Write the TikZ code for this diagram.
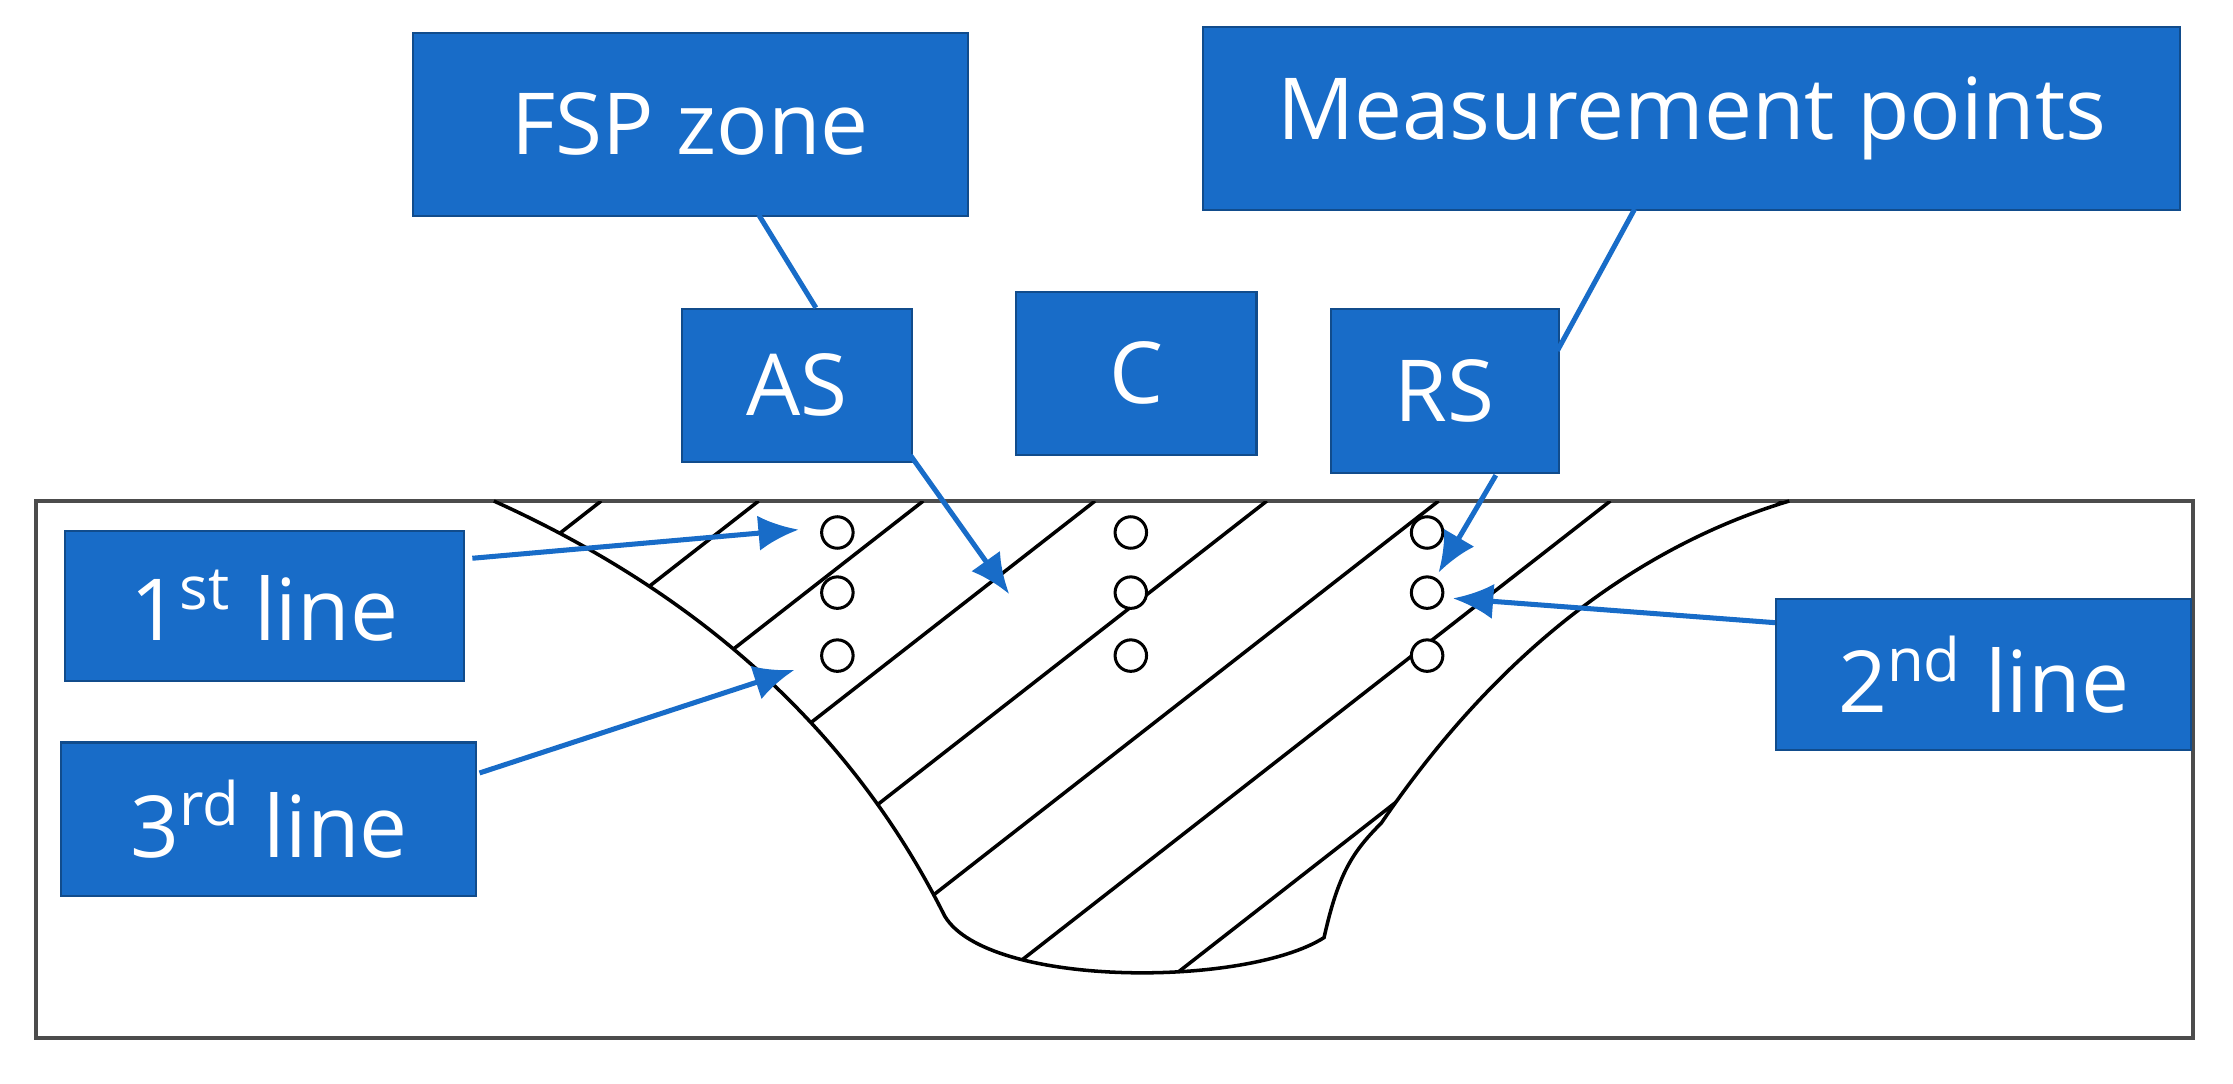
\documentclass[tikz,border=0pt]{standalone}
\usepackage{fontspec}
\setmainfont{Open Sans}
\usetikzlibrary{arrows.meta}
\definecolor{bl}{RGB}{24,108,200}
\begin{document}
\begin{tikzpicture}[x=0.01cm,y=-0.01cm,
 box/.style={draw=bl!70!black,fill=bl,text=white,font=\fontsize{17}{19}\selectfont,inner sep=0pt,anchor=north west},
 con/.style={bl,line width=1pt},
 arr/.style={con,-{Latex[length=8pt,width=7pt]}}]
\useasboundingbox (0,0) rectangle (1560,757);
\draw[line width=0.7pt,black!70] (25,350) rectangle (1532,725);
\def\zone{(345,350) .. controls (500,420) and (600,520) .. (660,640)
 .. controls (690,690) and (870,690) .. (925,655)
 .. controls (935,610) and (945,595) .. (965,575)
 .. controls (1050,450) and (1150,380) .. (1250,350) -- cycle}
\begin{scope}
\clip \zone;
\foreach \x in {420,530,645,765,885,1005,1125,1245,1365,1485}
 \draw[line width=0.7pt] (\x,350) -- ++(-700,546);
\end{scope}
\draw[line width=0.7pt] (345,350) .. controls (500,420) and (600,520) .. (660,640)
 .. controls (690,690) and (870,690) .. (925,655)
 .. controls (935,610) and (945,595) .. (965,575)
 .. controls (1050,450) and (1150,380) .. (1250,350);
\foreach \x in {585,790,997} \foreach \y in {372,414,458}
 \draw[fill=white,line width=0.6pt] (\x,\y) circle[radius=11];
\node[box,minimum width=3.87cm,minimum height=1.28cm] (fsp) at (288,22) {FSP zone};
\node[box,minimum width=6.82cm,minimum height=1.28cm] (mp) at (840,18) {Measurement points};
\node[box,minimum width=1.60cm,minimum height=1.07cm] (as) at (476,215) {AS};
\node[box,minimum width=1.68cm,minimum height=1.14cm] (c) at (709,203) {C};
\node[box,minimum width=1.59cm,minimum height=1.15cm] (rs) at (929,215) {RS};
\node[box,minimum width=2.78cm,minimum height=1.05cm] (l1) at (45,370) {1\textsuperscript{st} line};
\node[box,minimum width=2.90cm,minimum height=1.07cm] (l3) at (42,518) {3\textsuperscript{rd} line};
\node[box,minimum width=2.90cm,minimum height=1.05cm] (l2) at (1240,418) {2\textsuperscript{nd} line};
\coordinate (t1) at (558,370);
\coordinate (t3) at (555,468);
\coordinate (t2) at (1015,418);
\coordinate (tas) at (705,415);
\coordinate (trs) at (1005,400);
\draw[con] (530,150) -- (570,215);
\draw[con] (1142,146) -- (1088,245);
\draw[arr] (636,318) -- (tas);
\draw[arr] (1045,332) -- (trs);
\draw[arr] (330,390) -- (t1);
\draw[arr] (335,540) -- (t3);
\draw[arr] (1240,435) -- (t2);
\end{tikzpicture}
\end{document}
